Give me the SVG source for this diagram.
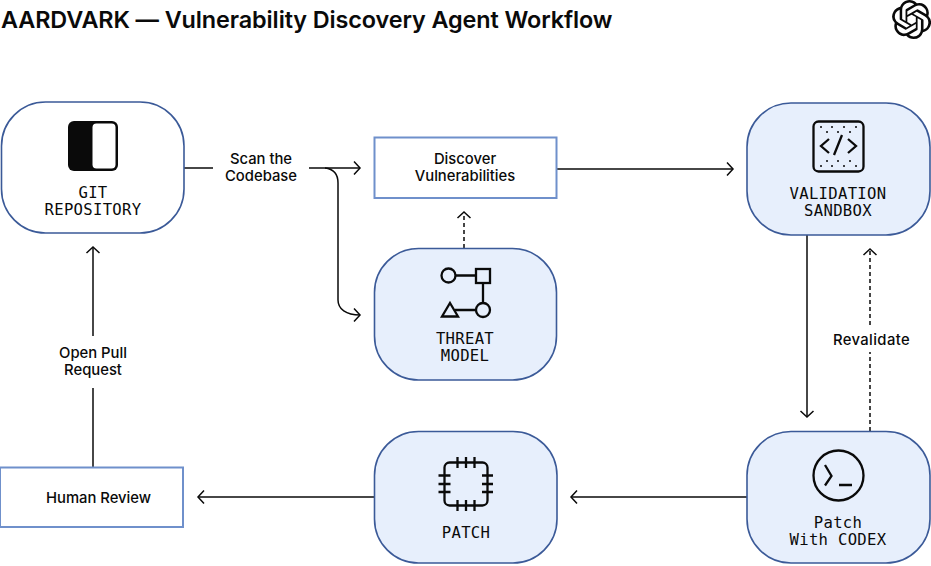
<svg xmlns="http://www.w3.org/2000/svg" width="931" height="566" viewBox="0 0 931 566">
<style>
text{fill:#0a0a0a;text-anchor:middle}
.title{font:600 23.4px Inter,"Liberation Sans",sans-serif;text-anchor:start;letter-spacing:-.1px}
.lbl{font:500 14.8px Inter,"Liberation Sans",sans-serif}
.mono{font:500 15.6px "DejaVu Sans Mono","Liberation Mono",monospace;letter-spacing:.3px}
.pill{stroke:#3b5a98;stroke-width:1.6}
.white{fill:#fff}.blue{fill:#e7effc}
.box{fill:#fff;stroke:#6f90cb;stroke-width:2}
.ln{fill:none;stroke:#0a0a0a;stroke-width:1.5}
.dash{stroke-dasharray:4 3}
.ic{fill:none;stroke:#0a0a0a;stroke-width:2.300}
</style>
<defs>
<marker id="a" markerUnits="userSpaceOnUse" markerWidth="14" markerHeight="16" refX="12" refY="8" orient="auto" overflow="visible"><path d="M6 1.5 12 8 6 14.500" fill="none" stroke="#0a0a0a" stroke-width="1.500"/></marker>
</defs>
<text class="title" x="1" y="28">AARDVARK — Vulnerability Discovery Agent Workflow</text>
<path id="logo" transform="translate(892 0) scale(1.63)" fill="#0a0a0a" d="M22.2819 9.8211a5.9847 5.9847 0 0 0-.5157-4.9108 6.0462 6.0462 0 0 0-6.5098-2.9A6.0651 6.0651 0 0 0 4.9807 4.1818a5.9847 5.9847 0 0 0-3.9977 2.9 6.0462 6.0462 0 0 0 .7427 7.0966 5.98 5.98 0 0 0 .511 4.9107 6.051 6.051 0 0 0 6.5146 2.9001A5.9847 5.9847 0 0 0 13.2599 24a6.0557 6.0557 0 0 0 5.7718-4.2058 5.9894 5.9894 0 0 0 3.9977-2.9001 6.0557 6.0557 0 0 0-.7475-7.0729zm-9.022 12.6081a4.4755 4.4755 0 0 1-2.8764-1.0408l.1419-.0804 4.7783-2.7582a.7948.7948 0 0 0 .3927-.6813v-6.7369l2.02 1.1686a.071.071 0 0 1 .038.052v5.5826a4.504 4.504 0 0 1-4.4945 4.4944zm-9.6607-4.1254a4.4708 4.4708 0 0 1-.5346-3.0137l.142.0852 4.783 2.7582a.7712.7712 0 0 0 .7806 0l5.8428-3.3685v2.3324a.0804.0804 0 0 1-.0332.0615L9.74 19.9502a4.4992 4.4992 0 0 1-6.1408-1.6464zM2.3408 7.8956a4.485 4.485 0 0 1 2.3655-1.9728V11.6a.7664.7664 0 0 0 .3879.6765l5.8144 3.3543-2.0201 1.1685a.0757.0757 0 0 1-.071 0l-4.8303-2.7865A4.504 4.504 0 0 1 2.3408 7.872zm16.5963 3.8558L13.1038 8.364 15.1192 7.2a.0757.0757 0 0 1 .071 0l4.8303 2.7913a4.4944 4.4944 0 0 1-.6765 8.1042v-5.6772a.79.79 0 0 0-.407-.667zm2.0107-3.0231l-.142-.0852-4.7735-2.7818a.7759.7759 0 0 0-.7854 0L9.409 9.2297V6.8974a.0662.0662 0 0 1 .0284-.0615l4.8303-2.7866a4.4992 4.4992 0 0 1 6.6802 4.66zM8.3065 12.863l-2.02-1.1638a.0804.0804 0 0 1-.038-.0567V6.0742a4.4992 4.4992 0 0 1 7.3757-3.4537l-.142.0805L8.704 5.459a.7948.7948 0 0 0-.3927.6813zm1.0976-2.3654l2.602-1.4998 2.6069 1.4998v2.9994l-2.5974 1.4997-2.6067-1.4997Z"/>
<g id="connectors">
<path class="ln" d="M184 168H213"/>
<path class="ln" d="M309 168H360" marker-end="url(#a)"/>
<path class="ln" d="M325 168C334 169 338 175 338 183V300C338 309 346 315 360 315" marker-end="url(#a)"/>
<path class="ln dash" d="M464 248V212" marker-end="url(#a)"/>
<path class="ln" d="M557 169H733" marker-end="url(#a)"/>
<path class="ln" d="M807 235V417" marker-end="url(#a)"/>
<path class="ln dash" d="M870 431V352"/>
<path class="ln dash" d="M870 325V249" marker-end="url(#a)"/>
<path class="ln" d="M747 497H571" marker-end="url(#a)"/>
<path class="ln" d="M374 497H198" marker-end="url(#a)"/>
<path class="ln" d="M93 467V388"/>
<path class="ln" d="M93 336V247" marker-end="url(#a)"/>
<text class="lbl" x="261" y="163.500">Scan the</text>
<text class="lbl" x="261" y="180.500">Codebase</text>
<text class="lbl" x="871.500" y="344.500" style="letter-spacing:.4px">Revalidate</text>
<text class="lbl" x="93" y="357.500">Open Pull</text>
<text class="lbl" x="93" y="374.500">Request</text>
</g>
<g id="git-repository">
<rect class="pill white" x="1.500" y="102" width="182.500" height="131" rx="44"/>
<rect x="68" y="121" width="50" height="50" rx="6" fill="#0a0a0a"/>
<rect x="92.500" y="123.500" width="23" height="45" rx="4" fill="#fff"/>
<text class="mono" x="93" y="198">GIT</text>
<text class="mono" x="93" y="215">REPOSITORY</text>
</g>
<g id="discover-vulnerabilities">
<rect class="box" x="374.500" y="137.500" width="182" height="60.500"/>
<text class="lbl" x="465" y="163.500">Discover</text>
<text class="lbl" x="465" y="180.500">Vulnerabilities</text>
</g>
<g id="threat-model">
<rect class="pill blue" x="374.500" y="248.500" width="182" height="131.500" rx="44"/>
<g class="ic">
<circle cx="448.500" cy="275.500" r="7"/>
<rect x="476" y="269" width="14" height="14"/>
<circle cx="483" cy="310" r="7"/>
<path d="M450 303 458 316.500H442Z"/>
<path d="M455.500 275.500H476M483 283V303M476 310H455"/>
</g>
<text class="mono" x="465" y="344">THREAT</text>
<text class="mono" x="465" y="361">MODEL</text>
</g>
<g id="validation-sandbox">
<rect class="pill blue" x="747" y="103" width="183" height="132" rx="44"/>
<rect class="ic" x="813.500" y="121.500" width="50" height="50" rx="5"/>
<path class="ic" d="M829 139 821 146 829 153M848 139 856 146 848 153M842 135 834 155"/>
<path d="M821 127h.01M832 127h.01M844 127h.01M856 127h.01M827 132h.01M838 132h.01M850 132h.01M827 161h.01M838 161h.01M850 161h.01M821 166h.01M832 166h.01M844 166h.01M856 166h.01" stroke="#0a0a0a" stroke-width="2" stroke-linecap="round"/>
<text class="mono" x="838" y="199">VALIDATION</text>
<text class="mono" x="838" y="216">SANDBOX</text>
</g>
<g id="patch-with-codex">
<rect class="pill blue" x="747" y="431.500" width="183" height="131.500" rx="44"/>
<circle class="ic" cx="838.500" cy="475.500" r="25"/>
<path class="ic" d="M825 465 831.500 476 825 485.500M839 485H852"/>
<text class="mono" x="838" y="528">Patch</text>
<text class="mono" x="838" y="545">With CODEX</text>
</g>
<g id="patch">
<rect class="pill blue" x="374.500" y="431.500" width="182.500" height="131.500" rx="44"/>
<rect class="ic" x="444.500" y="462.500" width="43" height="43" rx="5"/>
<path class="ic" d="M457.500 457V468M466 457V468M474.500 457V468M457.500 500V511M466 500V511M474.500 500V511M438.500 475.500H450.500M438.500 484H450.500M438.500 492H450.500M482 475.500H493M482 484H493M482 492H493"/>
<text class="mono" x="466" y="538">PATCH</text>
</g>
<g id="human-review">
<rect class="box" x="0" y="467.500" width="183" height="59.500"/>
<text class="lbl" x="98.500" y="502.500">Human Review</text>
</g>
</svg>
